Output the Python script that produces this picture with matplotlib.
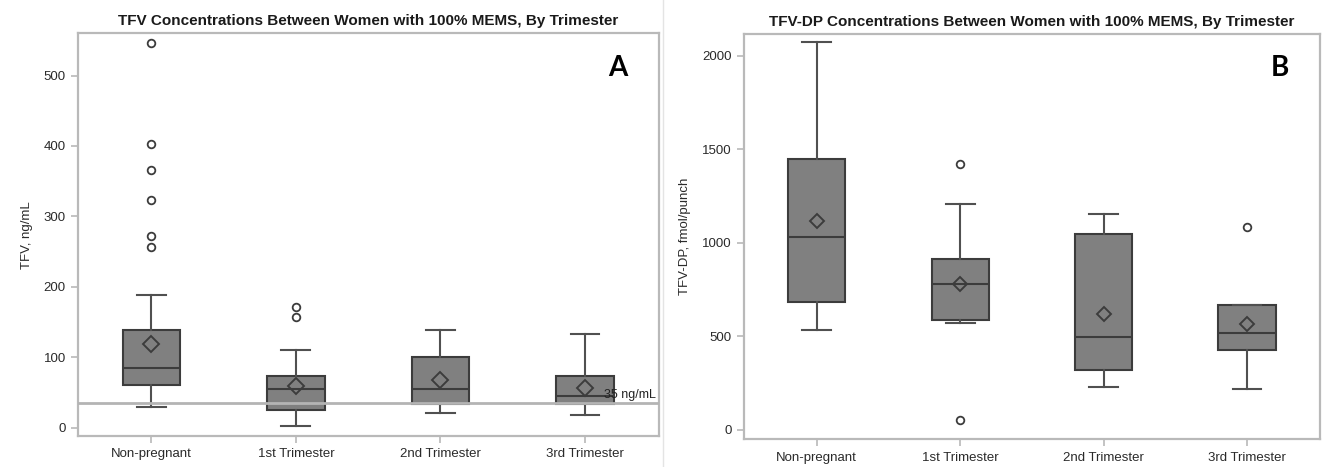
import matplotlib
matplotlib.use("Agg")
import matplotlib.pyplot as plt
from matplotlib.lines import Line2D

# Categories
groups = ["Non-pregnant", "1st Trimester", "2nd Trimester", "3rd Trimester"]

# Panel A: TFV (ng/mL) box summaries
tfv_whislo = [29, 3, 21, 18]
tfv_q1 = [61, 25, 33, 33]
tfv_med = [85, 55, 55, 45]
tfv_q3 = [139, 73, 101, 73]
tfv_whishi = [188, 110, 139, 133]
tfv_mean = [119, 59, 67, 57]
tfv_fliers = [[546, 403, 366, 324, 272, 256], [171, 157], [], []]
tfv_threshold = 35

# Panel B: TFV-DP (fmol/punch) box summaries
dp_whislo = [532, 570, 232, 218]
dp_q1 = [682, 587, 321, 429]
dp_med = [1032, 782, 495, 520]
dp_q3 = [1450, 914, 1045, 670]
dp_whishi = [2075, 1206, 1152, 670]
dp_mean = [1115, 782, 620, 564]
dp_fliers = [[], [1423, 55], [], [1086]]

BOX_FACE = "#808080"
DARK = "#3c3c3c"
FRAME = "#b9b9b9"
TEXT = "#2a2a2a"
FONT = ["Liberation Sans", "DejaVu Sans"]

plt.rcParams["font.family"] = FONT

fig = plt.figure(figsize=(13.24, 4.67), dpi=100)
axA = fig.add_axes([0.0587, 0.0664, 0.4388, 0.8623])
axB = fig.add_axes([0.5617, 0.0593, 0.4353, 0.8679])


def make_stats(lo, q1, med, q3, hi, mean, fl):
    return [dict(whislo=a, q1=b, med=c, q3=d, whishi=e, mean=m, fliers=f, label=g)
            for a, b, c, d, e, m, f, g in zip(lo, q1, med, q3, hi, mean, fl, groups)]


def draw_panel(ax, stats, ylim, yticks, ylabel, title, letter, mean_size):
    ax.bxp(stats, positions=range(len(stats)), widths=0.4, showmeans=True,
           showfliers=True, patch_artist=True, capwidths=0.2,
           boxprops=dict(facecolor=BOX_FACE, edgecolor=DARK, linewidth=1.5),
           medianprops=dict(color=DARK, linewidth=1.5),
           whiskerprops=dict(color="#505050", linewidth=1.5),
           capprops=dict(color="#505050", linewidth=1.5),
           meanprops=dict(marker="D", markerfacecolor="none", markeredgecolor=DARK,
                          markeredgewidth=1.4, markersize=mean_size),
           flierprops=dict(marker="o", markerfacecolor="none", markeredgecolor=DARK,
                           markeredgewidth=1.3, markersize=5.5))
    ax.set_xlim(-0.51, 3.51)
    ax.set_ylim(*ylim)
    ax.set_yticks(yticks)
    ax.set_xticks(range(len(groups)))
    ax.set_xticklabels(groups)
    for s in ax.spines.values():
        s.set_color(FRAME)
        s.set_linewidth(1.6)
    ax.tick_params(axis="both", colors=FRAME, labelcolor=TEXT, labelsize=9.5,
                   length=5, width=1.2, direction="out")
    ax.tick_params(axis="x", pad=4)
    ax.set_ylabel(ylabel, fontsize=9.5, color=TEXT, labelpad=8)
    ax.set_title(title, fontsize=11, fontweight="bold", color="#1a1a1a", pad=6)
    ax.text(0.93, 0.915, letter, transform=ax.transAxes, ha="center", va="center",
            fontsize=20, fontweight="bold", family=["Lato", "DejaVu Sans"], color="black")


draw_panel(axA, make_stats(tfv_whislo, tfv_q1, tfv_med, tfv_q3, tfv_whishi, tfv_mean, tfv_fliers),
           (-11.8, 560), [0, 100, 200, 300, 400, 500], "TFV, ng/mL",
           "TFV Concentrations Between Women with 100% MEMS, By Trimester", "A", 8)

# Threshold line for TFV
axA.axhline(tfv_threshold, color="#b4b4b4", linewidth=2, zorder=5)
axA.text(3.49, tfv_threshold + 3, f"{tfv_threshold} ng/mL", ha="right", va="bottom",
         fontsize=9, color="#222222", zorder=6)

draw_panel(axB, make_stats(dp_whislo, dp_q1, dp_med, dp_q3, dp_whishi, dp_mean, dp_fliers),
           (-50, 2116), [0, 500, 1000, 1500, 2000], "TFV-DP, fmol/punch",
           "TFV-DP Concentrations Between Women with 100% MEMS, By Trimester", "B", 7)

# Faint separator between the two panels
fig.add_artist(Line2D([663 / 1324, 663 / 1324], [0.0, 1.0], color="#e4e4e4", linewidth=1))

fig.savefig("out.png", dpi=100)
